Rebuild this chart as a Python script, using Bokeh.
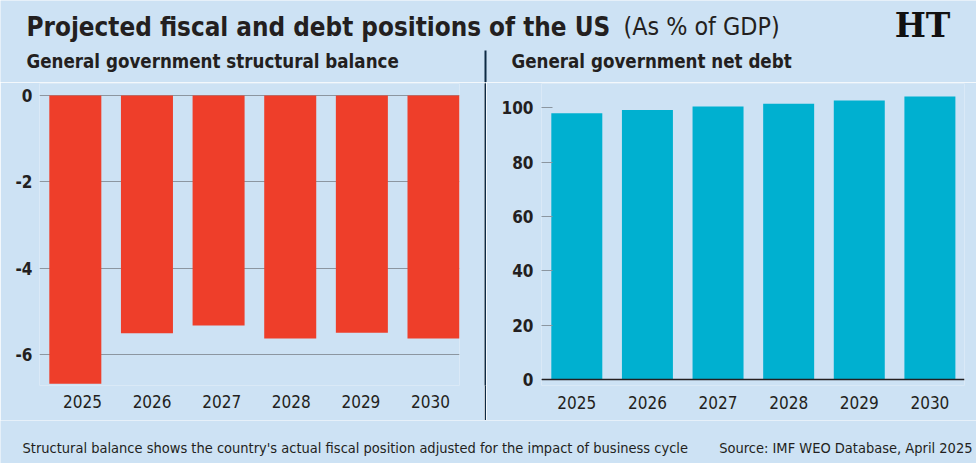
from bokeh.plotting import figure
from bokeh.models import Range1d, FixedTicker, Label, LinearAxis, Span
from bokeh.layouts import column, row
from bokeh.embed import file_html
from bokeh.resources import INLINE

# ---------------- data ----------------
years = ["2025", "2026", "2027", "2028", "2029", "2030"]
structural_balance = [-6.67, -5.50, -5.32, -5.62, -5.49, -5.62]
net_debt = [98.0, 99.2, 100.5, 101.5, 102.7, 104.2]
balance_ticks = [0, -2, -4, -6]
debt_ticks = [0, 20, 40, 60, 80, 100]

title_main = "Projected fiscal and debt positions of the US"
title_unit = "(As % of GDP)"
left_sub = "General government structural balance"
right_sub = "General government net debt"
note = "Structural balance shows the country's actual fiscal position adjusted for the impact of business cycle"
source = "Source: IMF WEO Database, April 2025"
logo = "HT"

# ---------------- style ----------------
BG = "#cde2f4"
RED = "#ee3e2a"
TEAL = "#00b0d0"
INK = "#231f20"
GRID = "#8c96a0"
DIV = "#0d2a44"
FONT = "DejaVu Sans Condensed"

idx = list(range(len(years)))
HDR_H = 82
ROW_H = 420 - HDR_H
TOP_B = 83 - HDR_H      # frame top at y=83 in the page
BOT_B = 420 - 385       # frame bottom at y=385 in the page


def blank(w, h, xr, yr, bg=BG):
    p = figure(width=w, height=h, x_range=xr, y_range=yr, output_backend="svg",
               toolbar_location=None, min_border=0, x_axis_location=None,
               y_axis_location=None, background_fill_color=bg, border_fill_color=bg,
               outline_line_color=None)
    p.grid.visible = False
    return p


def label(p, x, y, text, size, style="normal", align="left", font=FONT, color=INK):
    p.add_layout(Label(x=x, y=y, text=text, text_font=font, text_font_size=f"{size}px",
                       text_font_style=style, text_color=color, text_align=align,
                       text_baseline="alphabetic"))


def style_axis(ax, size, bold=False, standoff=8):
    ax.axis_line_color = None
    ax.major_tick_line_color = None
    ax.minor_tick_line_color = None
    ax.major_tick_out = 0
    ax.major_tick_in = 0
    ax.minor_tick_out = 0
    ax.minor_tick_in = 0
    ax.major_label_text_font = FONT
    ax.major_label_text_color = INK
    ax.major_label_text_font_size = f"{size}px"
    ax.major_label_text_font_style = "bold" if bold else "normal"
    ax.major_label_standoff = standoff


# ---------------- header ----------------
hdr = blank(976, HDR_H, Range1d(0, 976), Range1d(HDR_H, 0))
label(hdr, 26, 26, title_main, 25.8, "bold")
label(hdr, 623, 26, title_unit, 24.8)
label(hdr, 922, 25, logo, 33, "bold", align="center", font="DejaVu Serif", color="#111111")
label(hdr, 26, 61, left_sub, 18.6, "bold")
label(hdr, 511, 61, right_sub, 18.6, "bold")
hdr.segment(x0=[485], y0=[50], x1=[485], y1=[HDR_H], line_color=DIV, line_width=2)

# ---------------- left chart ----------------
lf = figure(width=484, height=ROW_H, x_range=Range1d(-0.5, 5.363), y_range=Range1d(-6.71, 0.278),
            output_backend="svg", toolbar_location=None, x_axis_location=None,
            background_fill_color=BG, border_fill_color=BG, outline_line_color=None,
            min_border_left=39, min_border_right=25, min_border_top=TOP_B,
            min_border_bottom=BOT_B)
lf.extra_x_ranges = {"labels": Range1d(-0.618, 5.417)}
lf.vbar(x=idx, top=structural_balance, bottom=0, width=0.726, fill_color=RED, line_color=None)
lf.xgrid.visible = False
lf.ygrid.ticker = FixedTicker(ticks=balance_ticks)
lf.ygrid.grid_line_color = GRID
lf.ygrid.grid_line_width = 1
lf.yaxis.ticker = FixedTicker(ticks=balance_ticks)
lf.yaxis.major_label_overrides = {t: str(t) for t in balance_ticks}
style_axis(lf.yaxis[0], 17, bold=True, standoff=7)
lx = LinearAxis(x_range_name="labels", ticker=FixedTicker(ticks=idx),
                major_label_overrides={i: y for i, y in zip(idx, years)})
style_axis(lx, 17, standoff=9)
lf.add_layout(lx, "below")

# ---------------- divider ----------------
dv = blank(2, ROW_H, Range1d(0, 1), Range1d(0, 1), bg=DIV)

# ---------------- right chart ----------------
rf = figure(width=490, height=ROW_H, x_range=Range1d(-0.5, 5.49), y_range=Range1d(-2.21, 108.94),
            output_backend="svg", toolbar_location=None,
            background_fill_color=BG, border_fill_color=BG, outline_line_color=None,
            min_border_left=55, min_border_right=12, min_border_top=TOP_B,
            min_border_bottom=BOT_B)
rf.vbar(x=idx, top=net_debt, bottom=0, width=0.722, fill_color=TEAL, line_color=None)
rf.grid.visible = False
rf.add_layout(Span(location=0, dimension="width", line_color=INK, line_width=1.5))
rf.yaxis.ticker = FixedTicker(ticks=debt_ticks)
style_axis(rf.yaxis[0], 17, bold=True, standoff=8)
rf.yaxis.major_tick_in = 11
rf.yaxis.major_tick_line_color = GRID
rf.yaxis.major_tick_line_width = 1
rf.xaxis.ticker = FixedTicker(ticks=idx)
rf.xaxis.major_label_overrides = {i: y for i, y in zip(idx, years)}
style_axis(rf.xaxis[0], 17, standoff=10)

# ---------------- footer ----------------
ft = blank(976, 43, Range1d(0, 976), Range1d(43, 0))
label(ft, 22, 27.5, note, 14.5)
label(ft, 972, 27.5, source, 14.5, align="right")

layout = column(hdr, row(lf, dv, rf), ft)

open("out.html", "w").write(file_html(layout, INLINE))
